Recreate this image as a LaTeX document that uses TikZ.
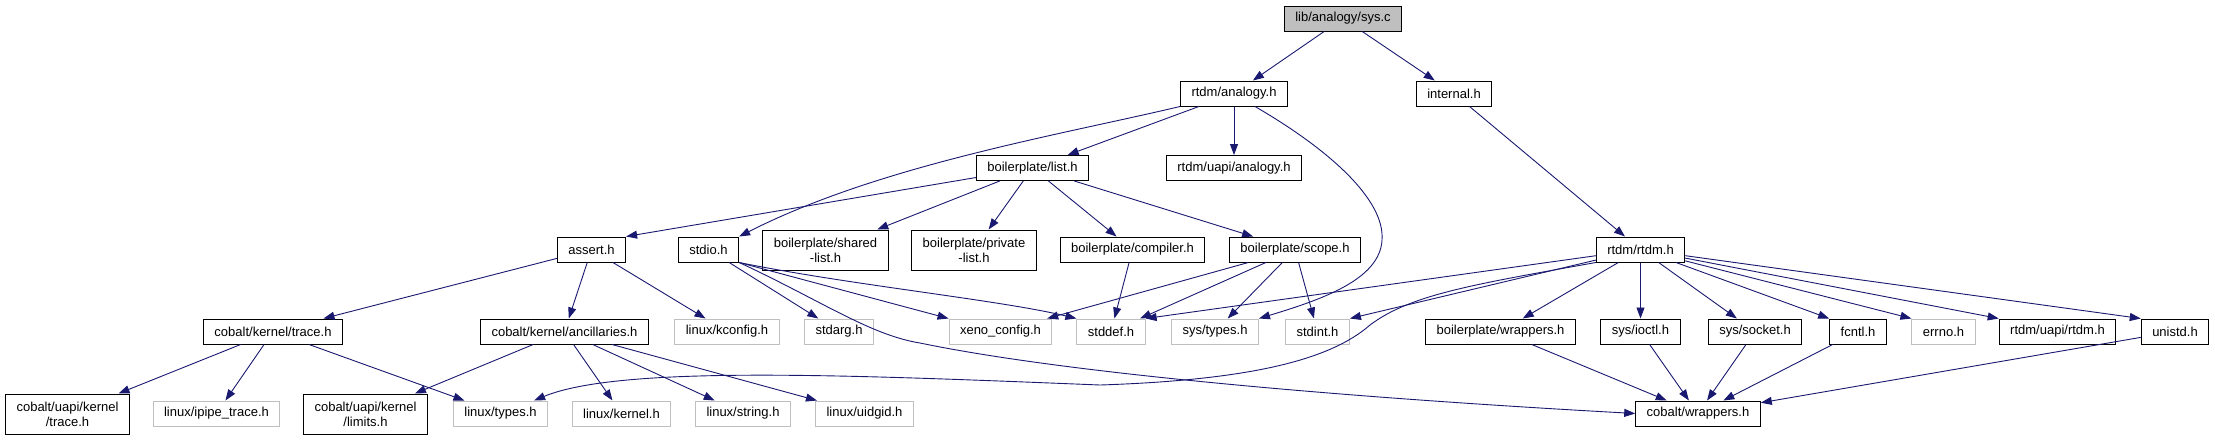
\documentclass[tikz,border=0pt]{standalone}
\usepackage{fontspec}
\setmainfont{Liberation Sans}
\usetikzlibrary{arrows.meta}
\definecolor{edgeblue}{HTML}{191970}
\definecolor{grey75}{HTML}{BFBFBF}
\tikzset{
  >={Triangle[length=11pt,width=8pt]},
  file/.style={draw=black, line width=1pt, inner xsep=11pt, inner ysep=0pt, minimum height=25pt, align=center, font=\fontsize{13}{15}\selectfont},
  extfile/.style={file, draw=grey75},
  twoline/.style={minimum height=40pt},
  dep/.style={->, draw=edgeblue, line width=0.9pt},
}
\begin{document}
\begin{tikzpicture}[x=1pt,y=-1pt]
\useasboundingbox (0,0) rectangle (2215,440);

\node[file, fill=grey75] (sys) at (1343,18.5) {lib/analogy/sys.c};

\node[file] (analogy) at (1234,93.5) {rtdm/analogy.h};
\node[file] (internal) at (1454,93.5) {internal.h};

\node[file] (list) at (1032.5,168) {boilerplate/list.h};
\node[file] (uapianalogy) at (1234,168) {rtdm/uapi/analogy.h};

\node[file] (assert) at (591.5,249.5) {assert.h};
\node[file] (stdio) at (708.5,249.5) {stdio.h};
\node[file, twoline] (sharedlist) at (825.5,250) {boilerplate/shared\\-list.h};
\node[file, twoline] (privatelist) at (974,250) {boilerplate/private\\-list.h};
\node[file] (compiler) at (1132.5,249.5) {boilerplate/compiler.h};
\node[file] (scope) at (1295,249.5) {boilerplate/scope.h};
\node[file] (rtdm) at (1640.5,249.5) {rtdm/rtdm.h};

\node[file] (ktrace) at (273,331.5) {cobalt/kernel/trace.h};
\node[file] (ancillaries) at (564.5,331.5) {cobalt/kernel/ancillaries.h};
\node[extfile] (kconfig) at (727,331.5) {linux/kconfig.h};
\node[extfile] (stdarg) at (839,331.5) {stdarg.h};
\node[extfile] (xeno) at (1000.5,331.5) {xeno\_config.h};
\node[extfile] (stddef) at (1111,331.5) {stddef.h};
\node[extfile] (systypes) at (1215,331.5) {sys/types.h};
\node[extfile] (stdint) at (1317.5,331.5) {stdint.h};
\node[file] (bpwrappers) at (1500.5,331.5) {boilerplate/wrappers.h};
\node[file] (ioctl) at (1640.5,331.5) {sys/ioctl.h};
\node[file] (socket) at (1755,331.5) {sys/socket.h};
\node[file] (fcntl) at (1858,331.5) {fcntl.h};
\node[extfile] (errno) at (1943.5,331.5) {errno.h};
\node[file] (uapirtdm) at (2057.5,331.5) {rtdm/uapi/rtdm.h};
\node[file] (unistd) at (2175,331.5) {unistd.h};

\node[file, twoline] (uapitrace) at (67.5,414) {cobalt/uapi/kernel\\/trace.h};
\node[extfile] (ipipe) at (216.5,413.5) {linux/ipipe\_trace.h};
\node[file, twoline] (limits) at (365.5,414) {cobalt/uapi/kernel\\/limits.h};
\node[extfile] (linuxtypes) at (500.5,413.5) {linux/types.h};
\node[extfile] (kernel) at (621.5,413.5) {linux/kernel.h};
\node[extfile] (string) at (743,413.5) {linux/string.h};
\node[extfile] (uidgid) at (864.5,413.5) {linux/uidgid.h};
\node[file] (cwrappers) at (1698,413.5) {cobalt/wrappers.h};

\draw[dep] (sys) -- (analogy);
\draw[dep] (sys) -- (internal);

\draw[dep] (analogy) -- (list);
\draw[dep] (analogy) -- (uapianalogy);
\draw[dep] (analogy.south west) .. controls (1060,135) and (880,165) .. (stdio.north east);
\draw[dep] ([xshift=21pt]analogy.south) .. controls (1330,150) and (1385,200) .. (1382,240) .. controls (1380,280) and (1320,300) .. (systypes.north east);
\draw[dep] (internal) -- (rtdm);

\draw[dep] (list) -- (assert.north east);
\draw[dep] (list) -- (sharedlist);
\draw[dep] (list) -- (privatelist);
\draw[dep] (list) -- (compiler);
\draw[dep] (list) -- (scope);

\draw[dep] (assert) -- (ktrace);
\draw[dep] (assert) -- (ancillaries);
\draw[dep] (assert) -- (kconfig);

\draw[dep] (stdio) -- (stdarg);
\draw[dep] (stdio.south east) -- (xeno.north west);
\draw[dep] (stdio.south east) .. controls (850,285) and (1000,300) .. (stddef.north west);
\draw[dep] (stdio.south east) .. controls (820,300) and (870,335) .. (920,343) .. controls (1050,370) and (1300,395) .. (cwrappers.west);

\draw[dep] (compiler) -- (stddef);
\draw[dep] (scope) -- (xeno);
\draw[dep] (scope) -- (stddef);
\draw[dep] (scope) -- (systypes);
\draw[dep] (scope) -- (stdint);

\draw[dep] (rtdm) -- (stddef.north east);
\draw[dep] (rtdm) -- (stdint.north east);
\draw[dep] (rtdm.south west) .. controls (1470,285) and (1410,295) .. (1370,325) .. controls (1330,360) and (1250,380) .. (1100,385) .. controls (850,375) and (620,365) .. ([xshift=-14pt]linuxtypes.north east);
\draw[dep] (rtdm) -- (bpwrappers);
\draw[dep] (rtdm) -- (ioctl);
\draw[dep] (rtdm) -- (socket);
\draw[dep] (rtdm) -- (fcntl.north west);
\draw[dep] (rtdm) -- (errno.north west);
\draw[dep] (rtdm) -- (uapirtdm.north west);
\draw[dep] (rtdm) -- (unistd.north west);

\draw[dep] (ktrace) -- (uapitrace);
\draw[dep] (ktrace) -- (ipipe);
\draw[dep] (ktrace) -- (linuxtypes);
\draw[dep] (ancillaries) -- (limits);
\draw[dep] (ancillaries) -- (kernel);
\draw[dep] (ancillaries) -- (string);
\draw[dep] (ancillaries) -- (uidgid);

\draw[dep] (bpwrappers) -- (cwrappers);
\draw[dep] (ioctl) -- (cwrappers);
\draw[dep] (socket) -- (cwrappers);
\draw[dep] (fcntl) -- (cwrappers);
\draw[dep] (unistd) -- (cwrappers);
\end{tikzpicture}
\end{document}
